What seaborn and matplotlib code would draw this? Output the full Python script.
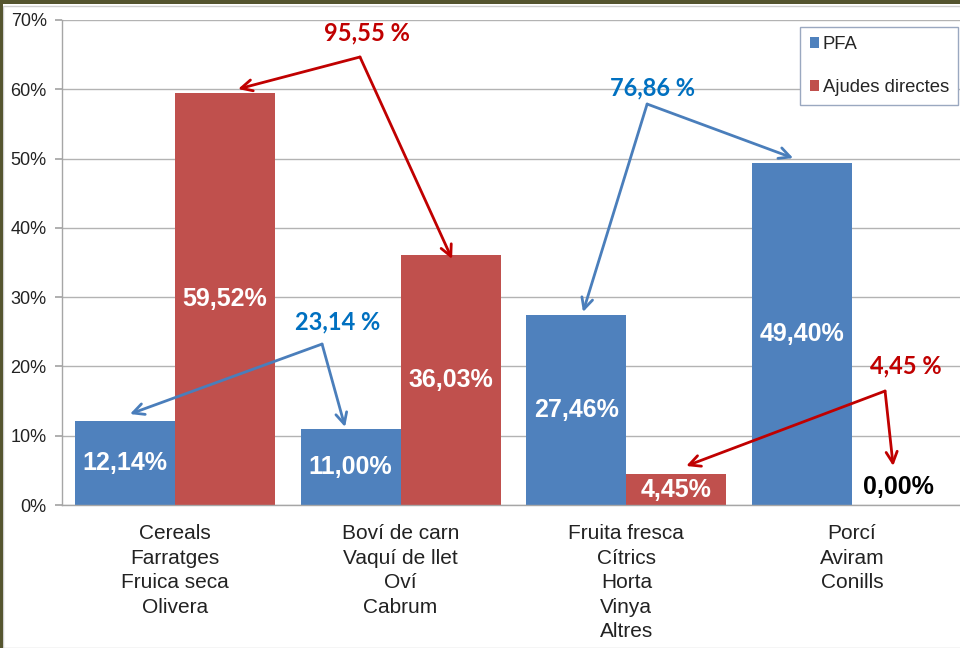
import matplotlib
matplotlib.use("Agg")
import matplotlib.pyplot as plt
import seaborn as sns
import pandas as pd
from matplotlib.patches import Rectangle

# ---- data ----
categories = [
    "Cereals\nFarratges\nFruica seca\nOlivera",
    "Boví de carn\nVaquí de llet\nOví\nCabrum",
    "Fruita fresca\nCítrics\nHorta\nVinya\nAltres",
    "Porcí\nAviram\nConills",
]
series = ["PFA", "Ajudes directes"]
pfa = [12.14, 11.00, 27.46, 49.40]
ajudes = [59.52, 36.03, 4.45, 0.00]
yticks = [0, 10, 20, 30, 40, 50, 60, 70]
ytick_labels = ["0%", "10%", "20%", "30%", "40%", "50%", "60%", "70%"]

def fmt(v, sep=""):
    return f"{v:.2f}".replace(".", ",") + sep + "%"

df = pd.DataFrame({
    "cat": categories * 2,
    "serie": [series[0]] * 4 + [series[1]] * 4,
    "val": pfa + ajudes,
})

BLUE = "#4F81BD"
RED = "#C0504D"
ARED = "#C00000"
ABLUE_T = "#0070C0"
ABLUE_L = "#4A7EBB"

sns.set_theme(style="white")
plt.rcParams["font.family"] = ["Liberation Sans", "DejaVu Sans"]

fig = plt.figure(figsize=(9.6, 6.48), dpi=100)
ax = fig.add_axes([62 / 960, 1 - 505 / 648, 0.9406, (505 - 20) / 648])

sns.barplot(data=df, x="cat", y="val", hue="serie", hue_order=series,
            order=categories, palette=[BLUE, RED], width=0.885,
            saturation=1, ax=ax, legend=False, linewidth=0, edgecolor="none")

ax.set_xlim(-0.5, 3.5)
ax.set_ylim(0, 70)
ax.set_yticks(yticks)
ax.set_yticklabels(ytick_labels, fontsize=13, color="#222222")
ax.set_xlabel("")
ax.set_ylabel("")
ax.set_xticks(range(4))
ax.set_xticklabels(categories, fontsize=15, color="#222222", linespacing=1.36)
ax.set_xticks([-0.5, 0.5, 1.5, 2.5, 3.5], minor=True)
ax.tick_params(axis="x", which="major", length=0, pad=14)
ax.tick_params(axis="x", which="minor", length=6, color="#A6A6A6", direction="out")
ax.tick_params(axis="y", length=5, color="#A6A6A6", direction="out", pad=6, left=True)
ax.yaxis.grid(True, color="#B3B3B3", lw=1)
ax.set_axisbelow(True)
for s in ["top", "right"]:
    ax.spines[s].set_visible(False)
for s in ["left", "bottom"]:
    ax.spines[s].set_color("#A6A6A6")
    ax.spines[s].set_linewidth(1)

# bar value labels
for cont, vals in zip(ax.containers, [pfa, ajudes]):
    labels = [fmt(v) if v > 0 else "" for v in vals]
    ax.bar_label(cont, labels=labels, label_type="center", color="white",
                 fontsize=18, fontweight="bold")

# zero label
ax.text(3.204, 2.6, fmt(ajudes[3]), color="black", fontsize=18,
        fontweight="bold", ha="center", va="center")

# summary annotations with arrows
ann_font = ["Lato", "DejaVu Sans"]
annos = [
    (fmt(pfa[0] + pfa[1], " "), ABLUE_T, ABLUE_L, (0.723, 26.4), (0.652, 23.23),
     [(-0.199, 13.13), (0.754, 11.26)]),
    (fmt(ajudes[0] + ajudes[1], " "), ARED, ARED, (0.851, 68.1), (0.820, 64.66),
     [(0.280, 60.04), (1.228, 35.5)]),
    (fmt(pfa[2] + pfa[3], " "), ABLUE_T, ABLUE_L, (2.118, 60.2), (2.092, 57.87),
     [(2.739, 50.07), (1.808, 27.85)]),
    (fmt(ajudes[2] + ajudes[3], " "), ARED, ARED, (3.239, 20.06), (3.146, 16.45),
     [(2.265, 5.63), (3.182, 5.63)]),
]
for text, tcol, lcol, tpos, vertex, targets in annos:
    ax.text(tpos[0], tpos[1], text, color=tcol, fontsize=17, fontweight="bold",
            family=ann_font, ha="center", va="center", zorder=6)
    for tgt in targets:
        ax.annotate("", xy=tgt, xytext=vertex,
                    arrowprops=dict(arrowstyle="->", color=lcol, lw=2,
                                    mutation_scale=20, shrinkA=0, shrinkB=0),
                    zorder=5)

# legend
handles = [Rectangle((0, 0), 1, 1, facecolor=BLUE, edgecolor="none"),
           Rectangle((0, 0), 1, 1, facecolor=RED, edgecolor="none")]
leg = fig.legend(handles, series, loc="upper right",
                 bbox_to_anchor=(958 / 960, 1 - 27 / 648), fontsize=13.3,
                 handlelength=0.5, handleheight=0.5, handletextpad=0.2,
                 labelspacing=1.4, borderpad=0.5, fancybox=False,
                 framealpha=1, edgecolor="#9AA8C0", borderaxespad=0)
leg.get_frame().set_linewidth(1)

# screenshot frame
fig.patches.append(Rectangle((0, 1 - 4 / 648), 1, 4 / 648, transform=fig.transFigure,
                             facecolor="#55552F", edgecolor="none", zorder=10))
fig.patches.append(Rectangle((0, 0), 3 / 960, 1, transform=fig.transFigure,
                             facecolor="#55552F", edgecolor="none", zorder=10))
fig.patches.append(Rectangle((3 / 960, 0), 1, 1 - 6 / 648, transform=fig.transFigure,
                             facecolor="none", edgecolor="#D0D0D0", lw=1, zorder=9))

fig.savefig("out.png", dpi=100)
